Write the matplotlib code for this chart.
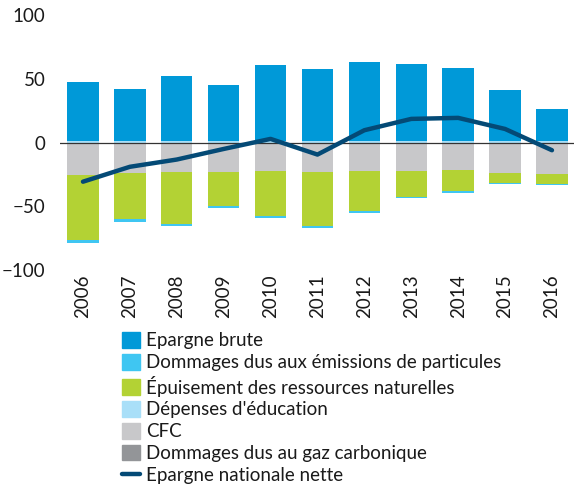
import matplotlib.pyplot as plt
import numpy as np
from matplotlib.patches import Patch
from matplotlib.lines import Line2D

plt.rcParams['font.family'] = ['Lato', 'DejaVu Sans']

years = ["2006", "2007", "2008", "2009", "2010", "2011", "2012", "2013", "2014", "2015", "2016"]

# positive components
epargne_brute = [46.3, 40.3, 50.5, 44.0, 59.1, 56.3, 61.8, 59.9, 56.8, 39.8, 24.9]
depenses_educ = [1.5, 1.5, 1.5, 1.5, 1.5, 1.5, 1.5, 1.5, 1.5, 1.5, 1.5]

# negative components (drawn downward from 0)
cfc = [-25.7, -24.0, -22.7, -23.3, -22.5, -22.7, -22.5, -22.5, -21.7, -24.0, -24.3]
ressources = [-50.7, -36.1, -41.1, -26.7, -34.8, -42.9, -31.4, -19.9, -16.5, -7.4, -7.9]
particules = [-2.3, -2.6, -1.8, -1.5, -1.5, -1.4, -1.3, -1.0, -1.0, -1.0, -1.3]
gaz_carbonique = [0, 0, 0, 0, 0, 0, 0, 0, 0, 0, 0]

epargne_nette = [-30.7, -19.0, -13.3, -5.0, 2.9, -9.4, 9.7, 18.6, 19.4, 10.7, -6.0]

c_brute = "#0099d8"
c_part = "#3fc6f2"
c_res = "#b3d234"
c_educ = "#a9dff8"
c_cfc = "#c8c8ca"
c_co2 = "#939598"
c_line = "#044a76"

fs = 13.5

fig = plt.figure(figsize=(5.74, 4.9), dpi=100)
ax = fig.add_axes([0.1045, 0.449, 0.8955, 0.52])

x = np.arange(len(years))
w = 0.67

ax.bar(x, depenses_educ, w, color=c_educ, zorder=2)
ax.bar(x, epargne_brute, w, bottom=depenses_educ, color=c_brute, zorder=2)

neg = np.zeros(len(years))
ax.bar(x, cfc, w, bottom=neg, color=c_cfc, zorder=2)
neg += np.array(cfc)
ax.bar(x, ressources, w, bottom=neg, color=c_res, zorder=2)
neg += np.array(ressources)
ax.bar(x, particules, w, bottom=neg, color=c_part, zorder=2)
neg += np.array(particules)
ax.bar(x, gaz_carbonique, w, bottom=neg, color=c_co2, zorder=2)

ax.axhline(0, color="#333333", lw=0.9, zorder=3)
ax.plot(x, epargne_nette, color=c_line, lw=3.2, solid_capstyle="round",
        solid_joinstyle="round", zorder=4)

ax.set_xlim(-0.49, 10.47)
ax.set_ylim(-100, 100)
ax.set_yticks([-100, -50, 0, 50, 100])
ax.set_xticks(x)
ax.set_xticklabels(years, rotation=90)
ax.tick_params(length=0, labelsize=fs, colors="#1a1a1a")
ax.tick_params(axis="y", pad=10.5)
ax.tick_params(axis="x", pad=3)
for s in ax.spines.values():
    s.set_visible(False)

handles = [
    Patch(color=c_brute, label="Epargne brute"),
    Patch(color=c_part, label="Dommages dus aux émissions de particules"),
    Patch(color=c_res, label="Épuisement des ressources naturelles"),
    Patch(color=c_educ, label="Dépenses d'éducation"),
    Patch(color=c_cfc, label="CFC"),
    Patch(color=c_co2, label="Dommages dus au gaz carbonique"),
    Line2D([0], [0], color=c_line, lw=3.2, solid_capstyle="round", label="Epargne nationale nette"),
]
fig.legend(handles=handles, loc="upper left", bbox_to_anchor=(0.212, 0.322),
           frameon=False, fontsize=fs, handlelength=0.95, handleheight=0.9,
           handletextpad=0.35, labelspacing=0.24, borderaxespad=0, borderpad=0,
           labelcolor="#1a1a1a")

plt.savefig("out.png", dpi=100)
